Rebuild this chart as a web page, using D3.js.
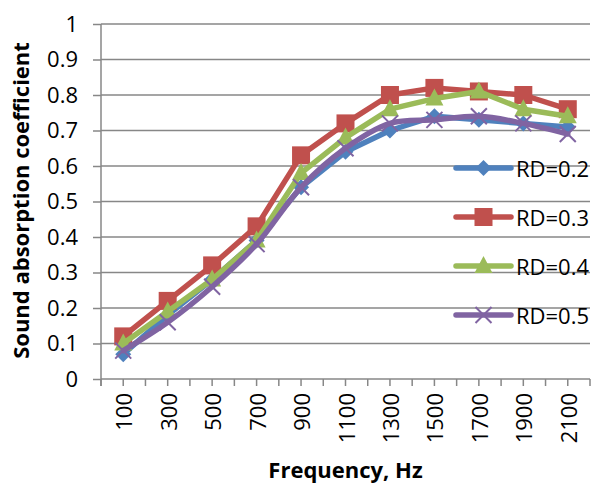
<!DOCTYPE html>
<html>
<head>
<meta charset="utf-8">
<script src="https://cdn.jsdelivr.net/npm/d3@7"></script>
<style>
  body { margin: 0; background: #fff; }
  svg { display: block; }
</style>
</head>
<body>
<div class="chart-container"></div>
<script>
const SVG_WIDTH = 595;
const SVG_HEIGHT = 483;

// data
const frequencies = ["100", "300", "500", "700", "900", "1100", "1300", "1500", "1700", "1900", "2100"];
const rd02 = [0.07, 0.18, 0.28, 0.39, 0.54, 0.64, 0.70, 0.74, 0.73, 0.72, 0.71];
const rd03 = [0.12, 0.22, 0.32, 0.43, 0.63, 0.72, 0.80, 0.82, 0.81, 0.80, 0.76];
const rd04 = [0.10, 0.19, 0.28, 0.39, 0.58, 0.68, 0.76, 0.79, 0.81, 0.76, 0.74];
const rd05 = [0.08, 0.16, 0.26, 0.38, 0.54, 0.65, 0.72, 0.73, 0.74, 0.72, 0.69];
const seriesNames = ["RD=0.2", "RD=0.3", "RD=0.4", "RD=0.5"];
const yTicks = [0, 0.1, 0.2, 0.3, 0.4, 0.5, 0.6, 0.7, 0.8, 0.9, 1];

const series = [
    {name: seriesNames[0], values: rd02, colour: "#4F81BD", marker: "diamond", smooth: false},
    {name: seriesNames[1], values: rd03, colour: "#C0504D", marker: "square", smooth: false},
    {name: seriesNames[2], values: rd04, colour: "#9BBB59", marker: "triangle", smooth: false},
    {name: seriesNames[3], values: rd05, colour: "#8064A2", marker: "cross", smooth: true}
];

const FONT = "'Open Sans', sans-serif";
const GRID = "#878787";

const plot = {left: 101, right: 590, top: 24, bottom: 379};

const svg = d3.select(".chart-container")
    .append("svg")
    .attr("width", SVG_WIDTH)
    .attr("height", SVG_HEIGHT);

const x = d3.scaleBand()
    .domain(frequencies)
    .range([plot.left, plot.right]);

const y = d3.scaleLinear()
    .domain([0, 1])
    .range([plot.bottom, plot.top]);

// gridlines
svg.append("g")
    .selectAll("line")
    .data(yTicks.slice(1))
    .join("line")
    .attr("x1", plot.left)
    .attr("x2", plot.right)
    .attr("y1", d => y(d))
    .attr("y2", d => y(d))
    .attr("stroke", GRID)
    .attr("stroke-width", 1.5);

// y axis
const yAxis = svg.append("g")
    .attr("transform", `translate(${plot.left},0)`)
    .call(d3.axisLeft(y).tickValues(yTicks).tickSize(8).tickPadding(15)
        .tickFormat(d => d3.format("")(+d.toFixed(1))));
yAxis.select(".domain").remove();
yAxis.selectAll(".tick line").attr("stroke", GRID).attr("stroke-width", 1.5);
yAxis.selectAll("text")
    .style("font-family", FONT)
    .style("font-size", "22px")
    .attr("fill", "#000");

svg.append("line")
    .attr("x1", plot.left).attr("x2", plot.left)
    .attr("y1", plot.top).attr("y2", plot.bottom + 7)
    .attr("stroke", GRID).attr("stroke-width", 1.5);

// x axis: ticks at category edges and centres
const halfTicks = [];
frequencies.forEach(f => {
    halfTicks.push(x(f));
    halfTicks.push(x(f) + x.bandwidth() / 2);
});
halfTicks.push(plot.right);

svg.append("line")
    .attr("x1", plot.left).attr("x2", plot.right)
    .attr("y1", plot.bottom).attr("y2", plot.bottom)
    .attr("stroke", GRID).attr("stroke-width", 1.5);

svg.append("g")
    .selectAll("line")
    .data(halfTicks)
    .join("line")
    .attr("x1", d => d).attr("x2", d => d)
    .attr("y1", plot.bottom).attr("y2", plot.bottom + 7)
    .attr("stroke", GRID).attr("stroke-width", 1.5);

const cx = f => x(f) + x.bandwidth() / 2;

svg.append("g")
    .selectAll("text")
    .data(frequencies)
    .join("text")
    .attr("transform", d => `translate(${cx(d)},${plot.bottom + 14}) rotate(-90)`)
    .attr("text-anchor", "end")
    .attr("dominant-baseline", "central")
    .style("font-family", FONT)
    .style("font-size", "22px")
    .attr("fill", "#000")
    .text(d => d);

// axis titles
svg.append("text")
    .attr("x", (plot.left + plot.right) / 2)
    .attr("y", 478)
    .attr("text-anchor", "middle")
    .style("font-family", FONT)
    .style("font-size", "22px")
    .style("font-weight", "700")
    .text("Frequency, Hz");

svg.append("text")
    .attr("transform", `translate(29,${(plot.top + plot.bottom) / 2 - 1}) rotate(-90)`)
    .attr("text-anchor", "middle")
    .style("font-family", FONT)
    .style("font-size", "22px")
    .style("font-weight", "700")
    .text("Sound absorption coefficient");

function drawMarker(target, type, px, py, colour) {
    if (type === "diamond") {
        target.append("path")
            .attr("d", `M${px},${py - 8}L${px + 8},${py}L${px},${py + 8}L${px - 8},${py}Z`)
            .attr("fill", colour);
    } else if (type === "square") {
        target.append("rect")
            .attr("x", px - 9).attr("y", py - 9)
            .attr("width", 18).attr("height", 18)
            .attr("fill", colour);
    } else if (type === "triangle") {
        target.append("path")
            .attr("d", `M${px},${py - 10}L${px + 9},${py + 7}L${px - 9},${py + 7}Z`)
            .attr("fill", colour);
    } else {
        target.append("path")
            .attr("d", `M${px - 8},${py - 8}L${px + 8},${py + 8}M${px + 8},${py - 8}L${px - 8},${py + 8}`)
            .attr("stroke", colour)
            .attr("stroke-width", 2);
    }
}

// series lines and markers
series.forEach(s => {
    const g = svg.append("g");
    const line = d3.line()
        .x((d, i) => cx(frequencies[i]))
        .y(d => y(d))
        .curve(s.smooth ? d3.curveCatmullRom : d3.curveLinear);

    g.append("path")
        .datum(s.values)
        .attr("d", line)
        .attr("fill", "none")
        .attr("stroke", s.colour)
        .attr("stroke-width", 5.5)
        .attr("stroke-linejoin", "round")
        .attr("stroke-linecap", "round");

    s.values.forEach((v, i) => {
        drawMarker(g, s.marker, cx(frequencies[i]), y(v), s.colour);
    });
});

// legend
const legendY = [168, 217, 266, 315];
series.forEach((s, i) => {
    const g = svg.append("g").attr("transform", `translate(456,${legendY[i]})`);
    g.append("line")
        .attr("x1", 0).attr("x2", 55)
        .attr("y1", 0).attr("y2", 0)
        .attr("stroke", s.colour)
        .attr("stroke-width", 5.5)
        .attr("stroke-linecap", "round");
    drawMarker(g, s.marker, 27.5, 0, s.colour);
    g.append("text")
        .attr("x", 60)
        .attr("y", 0)
        .attr("dominant-baseline", "central")
        .style("font-family", FONT)
        .style("font-size", "22px")
        .attr("fill", "#000")
        .text(s.name);
});
</script>
</body>
</html>
